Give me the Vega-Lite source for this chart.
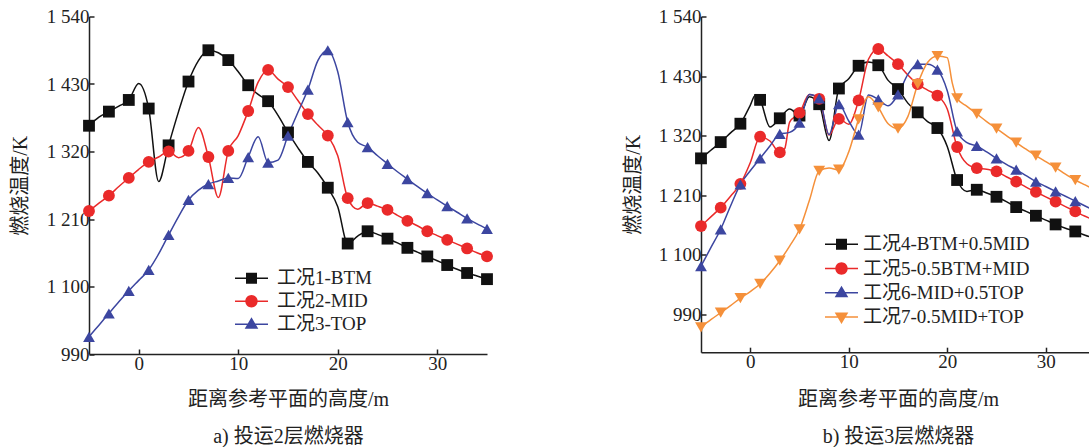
{
"$schema":"https://vega.github.io/schema/vega-lite/v6.json",
"background":"white",
"padding":{"left":10,"top":7.5,"right":0,"bottom":0},
"config":{
 "font":"Liberation Serif, Noto Sans CJK SC",
 "view":{"stroke":null},
 "axis":{"grid":false,"labelFont":"Liberation Serif, Noto Sans CJK SC","labelFontSize":19,"labelColor":"#222","titleFont":"Liberation Serif, Noto Sans CJK SC","titleFontSize":20,"titleFontWeight":"normal","titleColor":"#222","domainColor":"#222","domainWidth":1.5,"tickColor":"#222","tickWidth":1.5,"tickSize":-5,"labelPadding":5},
 "legend":{"labelFont":"Liberation Serif, Noto Sans CJK SC","labelFontSize":19,"labelColor":"#222","labelLimit":0,"padding":0,"title":null,"symbolOpacity":1,"symbolStrokeWidth":0}
},
"datasets":{
"A":[
{"x":-5,"T":1362,"c":"工况1-BTM"},{"x":-4,"T":1376,"c":"工况1-BTM"},{"x":-3,"T":1385,"c":"工况1-BTM"},{"x":-2,"T":1394,"c":"工况1-BTM"},{"x":-1,"T":1404,"c":"工况1-BTM"},{"x":0,"T":1431,"c":"工况1-BTM"},{"x":1,"T":1390,"c":"工况1-BTM"},{"x":2,"T":1271,"c":"工况1-BTM"},{"x":3,"T":1330,"c":"工况1-BTM"},{"x":4,"T":1385,"c":"工况1-BTM"},{"x":5,"T":1434,"c":"工况1-BTM"},{"x":6,"T":1468,"c":"工况1-BTM"},{"x":7,"T":1485,"c":"工况1-BTM"},{"x":8,"T":1481,"c":"工况1-BTM"},{"x":9,"T":1469,"c":"工况1-BTM"},{"x":10,"T":1450,"c":"工况1-BTM"},{"x":11,"T":1428,"c":"工况1-BTM"},{"x":12,"T":1413,"c":"工况1-BTM"},{"x":13,"T":1402,"c":"工况1-BTM"},{"x":14,"T":1379,"c":"工况1-BTM"},{"x":15,"T":1351,"c":"工况1-BTM"},{"x":16,"T":1326,"c":"工况1-BTM"},{"x":17,"T":1303,"c":"工况1-BTM"},{"x":18,"T":1285,"c":"工况1-BTM"},{"x":19,"T":1261,"c":"工况1-BTM"},{"x":20,"T":1230,"c":"工况1-BTM"},{"x":21,"T":1170,"c":"工况1-BTM"},{"x":22,"T":1182,"c":"工况1-BTM"},{"x":23,"T":1190,"c":"工况1-BTM"},{"x":24,"T":1185,"c":"工况1-BTM"},{"x":25,"T":1178,"c":"工况1-BTM"},{"x":26,"T":1171,"c":"工况1-BTM"},{"x":27,"T":1163,"c":"工况1-BTM"},{"x":28,"T":1156,"c":"工况1-BTM"},{"x":29,"T":1149,"c":"工况1-BTM"},{"x":30,"T":1142,"c":"工况1-BTM"},{"x":31,"T":1135,"c":"工况1-BTM"},{"x":32,"T":1128,"c":"工况1-BTM"},{"x":33,"T":1122,"c":"工况1-BTM"},{"x":34,"T":1117,"c":"工况1-BTM"},{"x":35,"T":1112,"c":"工况1-BTM"},
{"x":-5,"T":1223,"c":"工况2-MID"},{"x":-4,"T":1236,"c":"工况2-MID"},{"x":-3,"T":1248,"c":"工况2-MID"},{"x":-2,"T":1263,"c":"工况2-MID"},{"x":-1,"T":1277,"c":"工况2-MID"},{"x":0,"T":1291,"c":"工况2-MID"},{"x":1,"T":1303,"c":"工况2-MID"},{"x":2,"T":1311,"c":"工况2-MID"},{"x":3,"T":1320,"c":"工况2-MID"},{"x":4,"T":1310,"c":"工况2-MID"},{"x":5,"T":1321,"c":"工况2-MID"},{"x":6,"T":1359,"c":"工况2-MID"},{"x":7,"T":1311,"c":"工况2-MID"},{"x":8,"T":1245,"c":"工况2-MID"},{"x":9,"T":1321,"c":"工况2-MID"},{"x":10,"T":1346,"c":"工况2-MID"},{"x":11,"T":1386,"c":"工况2-MID"},{"x":12,"T":1433,"c":"工况2-MID"},{"x":13,"T":1453,"c":"工况2-MID"},{"x":14,"T":1438,"c":"工况2-MID"},{"x":15,"T":1425,"c":"工况2-MID"},{"x":16,"T":1403,"c":"工况2-MID"},{"x":17,"T":1381,"c":"工况2-MID"},{"x":18,"T":1363,"c":"工况2-MID"},{"x":19,"T":1346,"c":"工况2-MID"},{"x":20,"T":1313,"c":"工况2-MID"},{"x":21,"T":1244,"c":"工况2-MID"},{"x":22,"T":1226,"c":"工况2-MID"},{"x":23,"T":1236,"c":"工况2-MID"},{"x":24,"T":1231,"c":"工况2-MID"},{"x":25,"T":1225,"c":"工况2-MID"},{"x":26,"T":1216,"c":"工况2-MID"},{"x":27,"T":1207,"c":"工况2-MID"},{"x":28,"T":1199,"c":"工况2-MID"},{"x":29,"T":1190,"c":"工况2-MID"},{"x":30,"T":1183,"c":"工况2-MID"},{"x":31,"T":1176,"c":"工况2-MID"},{"x":32,"T":1169,"c":"工况2-MID"},{"x":33,"T":1162,"c":"工况2-MID"},{"x":34,"T":1155,"c":"工况2-MID"},{"x":35,"T":1149,"c":"工况2-MID"},
{"x":-5,"T":1018,"c":"工况3-TOP"},{"x":-4,"T":1037,"c":"工况3-TOP"},{"x":-3,"T":1056,"c":"工况3-TOP"},{"x":-2,"T":1075,"c":"工况3-TOP"},{"x":-1,"T":1093,"c":"工况3-TOP"},{"x":0,"T":1110,"c":"工况3-TOP"},{"x":1,"T":1127,"c":"工况3-TOP"},{"x":2,"T":1153,"c":"工况3-TOP"},{"x":3,"T":1184,"c":"工况3-TOP"},{"x":4,"T":1214,"c":"工况3-TOP"},{"x":5,"T":1241,"c":"工况3-TOP"},{"x":6,"T":1257,"c":"工况3-TOP"},{"x":7,"T":1267,"c":"工况3-TOP"},{"x":8,"T":1272,"c":"工况3-TOP"},{"x":9,"T":1277,"c":"工况3-TOP"},{"x":10,"T":1276,"c":"工况3-TOP"},{"x":11,"T":1311,"c":"工况3-TOP"},{"x":12,"T":1344,"c":"工况3-TOP"},{"x":13,"T":1302,"c":"工况3-TOP"},{"x":14,"T":1306,"c":"工况3-TOP"},{"x":15,"T":1346,"c":"工况3-TOP"},{"x":16,"T":1384,"c":"工况3-TOP"},{"x":17,"T":1421,"c":"工况3-TOP"},{"x":18,"T":1468,"c":"工况3-TOP"},{"x":19,"T":1485,"c":"工况3-TOP"},{"x":20,"T":1450,"c":"工况3-TOP"},{"x":21,"T":1368,"c":"工况3-TOP"},{"x":22,"T":1335,"c":"工况3-TOP"},{"x":23,"T":1327,"c":"工况3-TOP"},{"x":24,"T":1313,"c":"工况3-TOP"},{"x":25,"T":1300,"c":"工况3-TOP"},{"x":26,"T":1287,"c":"工况3-TOP"},{"x":27,"T":1275,"c":"工况3-TOP"},{"x":28,"T":1263,"c":"工况3-TOP"},{"x":29,"T":1252,"c":"工况3-TOP"},{"x":30,"T":1241,"c":"工况3-TOP"},{"x":31,"T":1231,"c":"工况3-TOP"},{"x":32,"T":1221,"c":"工况3-TOP"},{"x":33,"T":1211,"c":"工况3-TOP"},{"x":34,"T":1202,"c":"工况3-TOP"},{"x":35,"T":1194,"c":"工况3-TOP"}
],
"B":[
{"x":-5,"T":1278,"c":"工况4-BTM+0.5MID"},{"x":-4,"T":1293,"c":"工况4-BTM+0.5MID"},{"x":-3,"T":1308,"c":"工况4-BTM+0.5MID"},{"x":-2,"T":1325,"c":"工况4-BTM+0.5MID"},{"x":-1,"T":1342,"c":"工况4-BTM+0.5MID"},{"x":0,"T":1376,"c":"工况4-BTM+0.5MID"},{"x":0.5,"T":1394,"c":"工况4-BTM+0.5MID"},{"x":1,"T":1386,"c":"工况4-BTM+0.5MID"},{"x":2,"T":1336,"c":"工况4-BTM+0.5MID"},{"x":3,"T":1352,"c":"工况4-BTM+0.5MID"},{"x":4,"T":1369,"c":"工况4-BTM+0.5MID"},{"x":5,"T":1357,"c":"工况4-BTM+0.5MID"},{"x":6,"T":1392,"c":"工况4-BTM+0.5MID"},{"x":7,"T":1378,"c":"工况4-BTM+0.5MID"},{"x":8,"T":1311,"c":"工况4-BTM+0.5MID"},{"x":9,"T":1407,"c":"工况4-BTM+0.5MID"},{"x":10,"T":1425,"c":"工况4-BTM+0.5MID"},{"x":11,"T":1449,"c":"工况4-BTM+0.5MID"},{"x":12,"T":1456,"c":"工况4-BTM+0.5MID"},{"x":13,"T":1450,"c":"工况4-BTM+0.5MID"},{"x":14,"T":1422,"c":"工况4-BTM+0.5MID"},{"x":15,"T":1406,"c":"工况4-BTM+0.5MID"},{"x":16,"T":1380,"c":"工况4-BTM+0.5MID"},{"x":17,"T":1363,"c":"工况4-BTM+0.5MID"},{"x":18,"T":1346,"c":"工况4-BTM+0.5MID"},{"x":19,"T":1334,"c":"工况4-BTM+0.5MID"},{"x":20,"T":1300,"c":"工况4-BTM+0.5MID"},{"x":21,"T":1238,"c":"工况4-BTM+0.5MID"},{"x":22,"T":1217,"c":"工况4-BTM+0.5MID"},{"x":23,"T":1220,"c":"工况4-BTM+0.5MID"},{"x":24,"T":1214,"c":"工况4-BTM+0.5MID"},{"x":25,"T":1207,"c":"工况4-BTM+0.5MID"},{"x":26,"T":1198,"c":"工况4-BTM+0.5MID"},{"x":27,"T":1188,"c":"工况4-BTM+0.5MID"},{"x":28,"T":1180,"c":"工况4-BTM+0.5MID"},{"x":29,"T":1172,"c":"工况4-BTM+0.5MID"},{"x":30,"T":1164,"c":"工况4-BTM+0.5MID"},{"x":31,"T":1156,"c":"工况4-BTM+0.5MID"},{"x":32,"T":1149,"c":"工况4-BTM+0.5MID"},{"x":33,"T":1143,"c":"工况4-BTM+0.5MID"},{"x":34,"T":1136,"c":"工况4-BTM+0.5MID"},{"x":35,"T":1130,"c":"工况4-BTM+0.5MID"},
{"x":-5,"T":1153,"c":"工况5-0.5BTM+MID"},{"x":-4,"T":1170,"c":"工况5-0.5BTM+MID"},{"x":-3,"T":1187,"c":"工况5-0.5BTM+MID"},{"x":-2,"T":1208,"c":"工况5-0.5BTM+MID"},{"x":-1,"T":1231,"c":"工况5-0.5BTM+MID"},{"x":0,"T":1270,"c":"工况5-0.5BTM+MID"},{"x":1,"T":1318,"c":"工况5-0.5BTM+MID"},{"x":2,"T":1310,"c":"工况5-0.5BTM+MID"},{"x":3,"T":1289,"c":"工况5-0.5BTM+MID"},{"x":3.5,"T":1296,"c":"工况5-0.5BTM+MID"},{"x":4,"T":1345,"c":"工况5-0.5BTM+MID"},{"x":5,"T":1362,"c":"工况5-0.5BTM+MID"},{"x":6,"T":1396,"c":"工况5-0.5BTM+MID"},{"x":7,"T":1388,"c":"工况5-0.5BTM+MID"},{"x":8,"T":1321,"c":"工况5-0.5BTM+MID"},{"x":9,"T":1351,"c":"工况5-0.5BTM+MID"},{"x":10,"T":1341,"c":"工况5-0.5BTM+MID"},{"x":11,"T":1385,"c":"工况5-0.5BTM+MID"},{"x":12,"T":1461,"c":"工况5-0.5BTM+MID"},{"x":13,"T":1480,"c":"工况5-0.5BTM+MID"},{"x":14,"T":1467,"c":"工况5-0.5BTM+MID"},{"x":15,"T":1452,"c":"工况5-0.5BTM+MID"},{"x":16,"T":1432,"c":"工况5-0.5BTM+MID"},{"x":17,"T":1415,"c":"工况5-0.5BTM+MID"},{"x":18,"T":1404,"c":"工况5-0.5BTM+MID"},{"x":19,"T":1394,"c":"工况5-0.5BTM+MID"},{"x":20,"T":1369,"c":"工况5-0.5BTM+MID"},{"x":21,"T":1299,"c":"工况5-0.5BTM+MID"},{"x":22,"T":1268,"c":"工况5-0.5BTM+MID"},{"x":23,"T":1260,"c":"工况5-0.5BTM+MID"},{"x":24,"T":1258,"c":"工况5-0.5BTM+MID"},{"x":25,"T":1254,"c":"工况5-0.5BTM+MID"},{"x":26,"T":1244,"c":"工况5-0.5BTM+MID"},{"x":27,"T":1235,"c":"工况5-0.5BTM+MID"},{"x":28,"T":1225,"c":"工况5-0.5BTM+MID"},{"x":29,"T":1216,"c":"工况5-0.5BTM+MID"},{"x":30,"T":1207,"c":"工况5-0.5BTM+MID"},{"x":31,"T":1198,"c":"工况5-0.5BTM+MID"},{"x":32,"T":1189,"c":"工况5-0.5BTM+MID"},{"x":33,"T":1180,"c":"工况5-0.5BTM+MID"},{"x":34,"T":1171,"c":"工况5-0.5BTM+MID"},{"x":35,"T":1163,"c":"工况5-0.5BTM+MID"},
{"x":-5,"T":1079,"c":"工况6-MID+0.5TOP"},{"x":-4,"T":1113,"c":"工况6-MID+0.5TOP"},{"x":-3,"T":1147,"c":"工况6-MID+0.5TOP"},{"x":-2,"T":1190,"c":"工况6-MID+0.5TOP"},{"x":-1,"T":1230,"c":"工况6-MID+0.5TOP"},{"x":0,"T":1255,"c":"工况6-MID+0.5TOP"},{"x":1,"T":1278,"c":"工况6-MID+0.5TOP"},{"x":2,"T":1301,"c":"工况6-MID+0.5TOP"},{"x":3,"T":1323,"c":"工况6-MID+0.5TOP"},{"x":4,"T":1326,"c":"工况6-MID+0.5TOP"},{"x":5,"T":1344,"c":"工况6-MID+0.5TOP"},{"x":6,"T":1396,"c":"工况6-MID+0.5TOP"},{"x":7,"T":1389,"c":"工况6-MID+0.5TOP"},{"x":8,"T":1322,"c":"工况6-MID+0.5TOP"},{"x":9,"T":1378,"c":"工况6-MID+0.5TOP"},{"x":10,"T":1347,"c":"工况6-MID+0.5TOP"},{"x":11,"T":1322,"c":"工况6-MID+0.5TOP"},{"x":12,"T":1395,"c":"工况6-MID+0.5TOP"},{"x":13,"T":1387,"c":"工况6-MID+0.5TOP"},{"x":14,"T":1375,"c":"工况6-MID+0.5TOP"},{"x":15,"T":1396,"c":"工况6-MID+0.5TOP"},{"x":16,"T":1433,"c":"工况6-MID+0.5TOP"},{"x":17,"T":1452,"c":"工况6-MID+0.5TOP"},{"x":18,"T":1452,"c":"工况6-MID+0.5TOP"},{"x":19,"T":1442,"c":"工况6-MID+0.5TOP"},{"x":20,"T":1403,"c":"工况6-MID+0.5TOP"},{"x":21,"T":1328,"c":"工况6-MID+0.5TOP"},{"x":22,"T":1307,"c":"工况6-MID+0.5TOP"},{"x":23,"T":1301,"c":"工况6-MID+0.5TOP"},{"x":24,"T":1290,"c":"工况6-MID+0.5TOP"},{"x":25,"T":1278,"c":"工况6-MID+0.5TOP"},{"x":26,"T":1267,"c":"工况6-MID+0.5TOP"},{"x":27,"T":1257,"c":"工况6-MID+0.5TOP"},{"x":28,"T":1246,"c":"工况6-MID+0.5TOP"},{"x":29,"T":1235,"c":"工况6-MID+0.5TOP"},{"x":30,"T":1226,"c":"工况6-MID+0.5TOP"},{"x":31,"T":1217,"c":"工况6-MID+0.5TOP"},{"x":32,"T":1208,"c":"工况6-MID+0.5TOP"},{"x":33,"T":1199,"c":"工况6-MID+0.5TOP"},{"x":34,"T":1190,"c":"工况6-MID+0.5TOP"},{"x":35,"T":1181,"c":"工况6-MID+0.5TOP"},
{"x":-5,"T":966,"c":"工况7-0.5MID+TOP"},{"x":-4,"T":980,"c":"工况7-0.5MID+TOP"},{"x":-3,"T":993,"c":"工况7-0.5MID+TOP"},{"x":-2,"T":1006,"c":"工况7-0.5MID+TOP"},{"x":-1,"T":1020,"c":"工况7-0.5MID+TOP"},{"x":0,"T":1032,"c":"工况7-0.5MID+TOP"},{"x":1,"T":1046,"c":"工况7-0.5MID+TOP"},{"x":2,"T":1066,"c":"工况7-0.5MID+TOP"},{"x":3,"T":1089,"c":"工况7-0.5MID+TOP"},{"x":4,"T":1116,"c":"工况7-0.5MID+TOP"},{"x":5,"T":1147,"c":"工况7-0.5MID+TOP"},{"x":6,"T":1200,"c":"工况7-0.5MID+TOP"},{"x":7,"T":1255,"c":"工况7-0.5MID+TOP"},{"x":8,"T":1260,"c":"工况7-0.5MID+TOP"},{"x":9,"T":1257,"c":"工况7-0.5MID+TOP"},{"x":10,"T":1290,"c":"工况7-0.5MID+TOP"},{"x":11,"T":1350,"c":"工况7-0.5MID+TOP"},{"x":12,"T":1392,"c":"工况7-0.5MID+TOP"},{"x":13,"T":1372,"c":"工况7-0.5MID+TOP"},{"x":14,"T":1342,"c":"工况7-0.5MID+TOP"},{"x":15,"T":1333,"c":"工况7-0.5MID+TOP"},{"x":16,"T":1355,"c":"工况7-0.5MID+TOP"},{"x":17,"T":1415,"c":"工况7-0.5MID+TOP"},{"x":18,"T":1455,"c":"工况7-0.5MID+TOP"},{"x":19,"T":1467,"c":"工况7-0.5MID+TOP"},{"x":20,"T":1464,"c":"工况7-0.5MID+TOP"},{"x":20.5,"T":1418,"c":"工况7-0.5MID+TOP"},{"x":21,"T":1389,"c":"工况7-0.5MID+TOP"},{"x":22,"T":1374,"c":"工况7-0.5MID+TOP"},{"x":23,"T":1360,"c":"工况7-0.5MID+TOP"},{"x":24,"T":1346,"c":"工况7-0.5MID+TOP"},{"x":25,"T":1333,"c":"工况7-0.5MID+TOP"},{"x":26,"T":1320,"c":"工况7-0.5MID+TOP"},{"x":27,"T":1307,"c":"工况7-0.5MID+TOP"},{"x":28,"T":1295,"c":"工况7-0.5MID+TOP"},{"x":29,"T":1283,"c":"工况7-0.5MID+TOP"},{"x":30,"T":1272,"c":"工况7-0.5MID+TOP"},{"x":31,"T":1261,"c":"工况7-0.5MID+TOP"},{"x":32,"T":1249,"c":"工况7-0.5MID+TOP"},{"x":33,"T":1238,"c":"工况7-0.5MID+TOP"},{"x":34,"T":1229,"c":"工况7-0.5MID+TOP"},{"x":35,"T":1220,"c":"工况7-0.5MID+TOP"}
]
},
"spacing":129,
"resolve":{"scale":{"color":"independent","fill":"independent","shape":"independent"}},
"hconcat":[
{
"width":398,"height":337.5,
"resolve":{"scale":{"shape":"independent","fill":"independent"}},
"layer":[
{"data":{"name":"A"},"mark":{"type":"line","interpolate":"monotone","strokeWidth":1.5},
"encoding":{
"x":{"field":"x","type":"quantitative","scale":{"domain":[-5,35],"nice":false,"zero":false},"axis":{"values":[0,10,20,30],"title":["距离参考平面的高度/m","a) 投运2层燃烧器"],"titleLineHeight":37,"titleBaseline":"top","titleY":35}},
"y":{"field":"T","type":"quantitative","scale":{"domain":[990,1540],"nice":false,"zero":false},"axis":{"values":[990,1100,1210,1320,1430,1540],"labelExpr":"replace(format(datum.value, ','), ',', ' ')","title":"燃烧温度/K","titleX":-69,"titleY":168.75,"titleAngle":270,"titleBaseline":"middle","titleAlign":"center"}},
"color":{"field":"c","type":"nominal","scale":{"domain":["工况1-BTM","工况2-MID","工况3-TOP"],"range":["#111111","#EA2A2A","#3C46A0"]},"legend":null}
}},
{"data":{"name":"A"},"transform":[{"filter":"abs(datum.x % 2) == 1"}],"mark":{"type":"point","filled":true,"size":140,"opacity":1},
"encoding":{
"x":{"field":"x","type":"quantitative"},
"y":{"field":"T","type":"quantitative"},
"color":{"field":"c","type":"nominal","legend":null},
"shape":{"field":"c","type":"nominal","scale":{"domain":["工况1-BTM","工况2-MID","工况3-TOP"],"range":["square","circle","triangle-up"]},"legend":null}
}},
{"data":{"name":"A"},"transform":[{"filter":"abs(datum.x % 2) == 1"}],"mark":{"type":"point","filled":true,"size":0},
"encoding":{
"x":{"field":"x","type":"quantitative"},
"y":{"field":"T","type":"quantitative"},
"fill":{"field":"c","type":"nominal","scale":{"range":["#111111","#EA2A2A","#3C46A0"]},"legend":{"orient":"none","legendX":152.5,"legendY":251.8,"symbolSize":400,"labelOffset":15.5,"rowPadding":3}},
"shape":{"field":"c","type":"nominal","scale":{"range":["M-1.65,-0.075H1.65V0.075H-1.65Z M-0.55,-0.55H0.55V0.55H-0.55Z","M-1.65,-0.075H1.65V0.075H-1.65Z M-0.62,0A0.62,0.62 0 1,1 0.62,0A0.62,0.62 0 1,1 -0.62,0Z","M-1.65,-0.075H1.65V0.075H-1.65Z M0,-0.7L0.68,0.45L-0.68,0.45Z"]},"legend":{"orient":"none","legendX":152.5,"legendY":251.8,"symbolSize":400,"labelOffset":15.5,"rowPadding":3}}
}}
]
},
{
"width":394,"height":335.7,
"resolve":{"scale":{"shape":"independent","fill":"independent"}},
"layer":[
{"data":{"name":"B"},"mark":{"type":"line","interpolate":"monotone","strokeWidth":1.5},
"encoding":{
"x":{"field":"x","type":"quantitative","scale":{"domain":[-5,35],"nice":false,"zero":false},"axis":{"values":[0,10,20,30],"title":["距离参考平面的高度/m","b) 投运3层燃烧器"],"titleLineHeight":37,"titleBaseline":"top","titleY":37}},
"y":{"field":"T","type":"quantitative","scale":{"domain":[920,1540],"nice":false,"zero":false},"axis":{"values":[990,1100,1210,1320,1430,1540],"labelExpr":"replace(format(datum.value, ','), ',', ' ')","title":"燃烧温度/K","titleX":-68,"titleY":167.85,"titleAngle":270,"titleBaseline":"middle","titleAlign":"center"}},
"color":{"field":"c","type":"nominal","scale":{"domain":["工况4-BTM+0.5MID","工况5-0.5BTM+MID","工况6-MID+0.5TOP","工况7-0.5MID+TOP"],"range":["#111111","#EA2A2A","#3C46A0","#F5903A"]},"legend":null}
}},
{"data":{"name":"B"},"transform":[{"filter":"abs(datum.x % 2) == 1"}],"mark":{"type":"point","filled":true,"size":140,"opacity":1},
"encoding":{
"x":{"field":"x","type":"quantitative"},
"y":{"field":"T","type":"quantitative"},
"color":{"field":"c","type":"nominal","legend":null},
"shape":{"field":"c","type":"nominal","scale":{"domain":["工况4-BTM+0.5MID","工况5-0.5BTM+MID","工况6-MID+0.5TOP","工况7-0.5MID+TOP"],"range":["square","circle","triangle-up","triangle-down"]},"legend":null}
}},
{"data":{"name":"B"},"transform":[{"filter":"abs(datum.x % 2) == 1"}],"mark":{"type":"point","filled":true,"size":0},
"encoding":{
"x":{"field":"x","type":"quantitative"},
"y":{"field":"T","type":"quantitative"},
"fill":{"field":"c","type":"nominal","scale":{"range":["#111111","#EA2A2A","#3C46A0","#F5903A"]},"legend":{"orient":"none","legendX":130.5,"legendY":217.7,"symbolSize":400,"labelOffset":11.5,"rowPadding":4.3}},
"shape":{"field":"c","type":"nominal","scale":{"range":["M-1.65,-0.075H1.65V0.075H-1.65Z M-0.55,-0.55H0.55V0.55H-0.55Z","M-1.65,-0.075H1.65V0.075H-1.65Z M-0.62,0A0.62,0.62 0 1,1 0.62,0A0.62,0.62 0 1,1 -0.62,0Z","M-1.65,-0.075H1.65V0.075H-1.65Z M0,-0.7L0.68,0.45L-0.68,0.45Z","M-1.65,-0.075H1.65V0.075H-1.65Z M-0.68,-0.45L0.68,-0.45L0,0.7Z"]},"legend":{"orient":"none","legendX":130.5,"legendY":217.7,"symbolSize":400,"labelOffset":11.5,"rowPadding":4.3}}
}}
]
}
]
}
